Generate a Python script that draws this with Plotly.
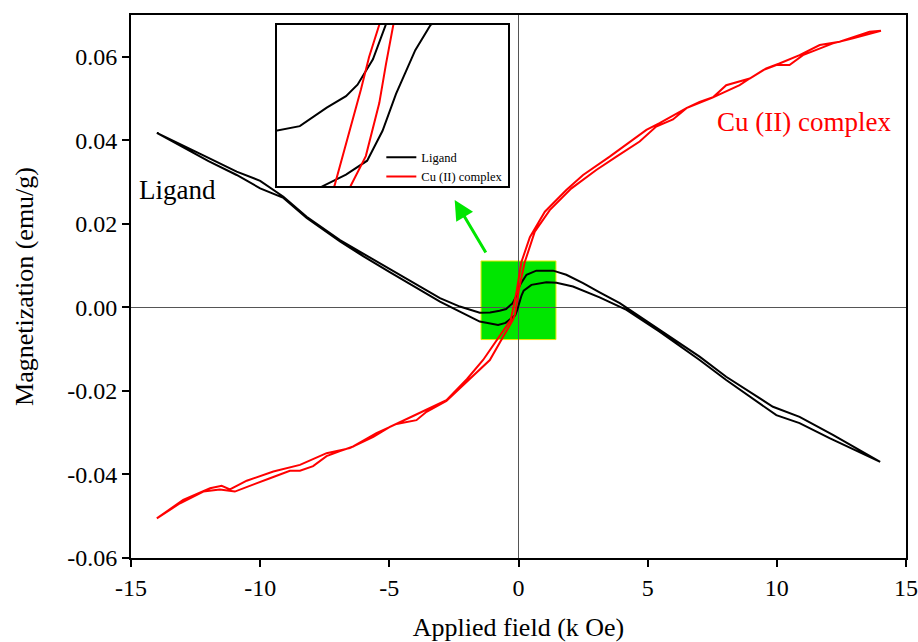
import plotly.graph_objects as go

# ---------------- data ----------------
# Ligand, branch with field decreasing (+14 -> -14)
lig_up_x = [14.0, 12.17, 10.88, 9.85, 8.04, 7.01, 5.46, 3.92, 3.14, 2.5, 1.85, 1.34, 0.69, 0.31, 0.10,
            -0.02, -0.10, -0.18, -0.24, -0.34, -0.48, -0.73, -1.1, -1.5, -2.27, -3.04, -4.0, -5.0,
            -6.0, -6.91, -8.2, -9.1, -10.0, -10.91, -12.0, -13.0, -14.0]
lig_up_y = [-0.0370, -0.0305, -0.0262, -0.0238, -0.0166, -0.0118, -0.0054, 0.0010, 0.0036, 0.0058,
            0.0078, 0.0088, 0.0088, 0.0078, 0.0058, 0.0043, 0.0025, 0.0014, 0.0009, 0.0004, -0.0004,
            -0.0008, -0.0012, -0.0013, 0.0002, 0.0022, 0.0056, 0.0092, 0.0128, 0.0161, 0.0217,
            0.0265, 0.0303, 0.0325, 0.0358, 0.0388, 0.0418]
# Ligand, branch with field increasing (-14 -> +14)
lig_dn_x = [-14.0, -13.0, -12.0, -10.91, -10.0, -9.1, -8.2, -6.91, -6.0, -5.0, -4.0, -3.04, -2.27,
            -1.5, -0.79, -0.5, -0.36, -0.24, -0.13, -0.05, 0.02, 0.12, 0.2, 0.5, 1.08, 1.47, 2.11,
            3.14, 4.18, 5.46, 7.01, 8.04, 9.98, 10.88, 12.04, 14.0]
lig_dn_y = [0.0418, 0.0384, 0.0350, 0.0317, 0.0285, 0.0262, 0.0214, 0.0158, 0.0122, 0.0085, 0.0048,
            0.0014, -0.0010, -0.0034, -0.0042, -0.0037, -0.0030, -0.0025, -0.0019, -0.0006, 0.0010,
            0.0029, 0.0040, 0.0054, 0.0060, 0.0059, 0.0050, 0.0024, -0.0006, -0.0058, -0.0126,
            -0.0174, -0.0258, -0.0277, -0.0313, -0.0370]

# Cu (II) complex, branch with field decreasing (+14 -> -14)
cu_up_x = [14.03, 13.59, 12.43, 11.66, 10.88, 10.1, 9.59, 8.95, 8.04, 7.53, 6.5, 5.46, 4.95, 3.53,
           2.5, 1.85, 1.02, 0.44, 0.11, -0.067, -0.12, -0.162, -0.24, -0.30, -0.6, -0.9, -1.37,
           -2.0, -2.79, -4.08, -4.98, -5.62, -6.53, -7.43, -8.46, -9.49, -10.52, -11.17, -11.49,
           -11.94, -12.98, -14.0]
cu_up_y = [0.0662, 0.0660, 0.0636, 0.0628, 0.0604, 0.0584, 0.0572, 0.0548, 0.0532, 0.0503, 0.0477,
           0.0441, 0.0425, 0.0361, 0.0317, 0.0281, 0.0229, 0.0168, 0.0108, 0.0040, 0.0026, 0.0012,
           -0.0012, -0.0030, -0.0057, -0.0084, -0.0126, -0.0172, -0.0222, -0.0260, -0.0286,
           -0.0310, -0.0337, -0.0349, -0.0377, -0.0393, -0.0415, -0.0436, -0.0427, -0.0433,
           -0.0461, -0.0505]
# Cu (II) complex, branch with field increasing (-14 -> +14)
cu_dn_x = [-14.0, -13.1, -12.2, -11.56, -10.98, -10.27, -9.62, -8.85, -8.46, -7.95, -7.43, -6.91,
           -6.4, -5.5, -4.72, -3.95, -3.56, -2.79, -2.0, -1.11, -0.6, -0.216, -0.137, -0.067,
           -0.032, 0.006, 0.24, 0.63, 1.21, 2.05, 3.01, 3.79, 4.69, 5.33, 5.98, 6.5, 7.01, 7.53,
           8.56, 8.95, 9.47, 9.98, 10.49, 11.01, 11.66, 12.17, 12.95, 14.03]
cu_dn_y = [-0.0505, -0.0469, -0.0441, -0.0436, -0.0441, -0.0425, -0.0409, -0.0391, -0.0391,
           -0.0380, -0.0356, -0.0344, -0.0333, -0.0301, -0.0279, -0.0270, -0.0250, -0.0224,
           -0.0178, -0.0126, -0.0071, -0.0030, -0.0017, 0.0006, 0.0023, 0.0040, 0.0108, 0.0181,
           0.0233, 0.0285, 0.0329, 0.0361, 0.0397, 0.0433, 0.0450, 0.0477, 0.0492, 0.0503,
           0.0532, 0.0548, 0.0568, 0.0580, 0.0580, 0.0604, 0.0620, 0.0632, 0.0644, 0.0662]

series_names = ["Ligand", "Cu (II) complex"]
series_colors = ["#000000", "#ff0000"]

x_ticks = [-15, -10, -5, 0, 5, 10, 15]
x_ticktext = ["-15", "-10", "-5", "0", "5", "10", "15"]
y_ticks = [-0.06, -0.04, -0.02, 0.00, 0.02, 0.04, 0.06]
y_ticktext = ["-0.06", "-0.04", "-0.02", "0.00", "0.02", "0.04", "0.06"]

# highlighted region (green box) and inset ranges
box_x = [-1.45, 1.45]
box_y = [-0.0077, 0.0111]
inset_xr = [-0.6, 0.6]
inset_yr = [-0.003, 0.004]

FONT = "Liberation Serif"

fig = go.Figure()

loops = [
    (lig_dn_x + lig_up_x, lig_dn_y + lig_up_y),
    (cu_dn_x + cu_up_x, cu_dn_y + cu_up_y),
]

# main plot traces
for (xs, ys), name, col in zip(loops, series_names, series_colors):
    fig.add_trace(go.Scatter(x=xs, y=ys, mode="lines", name=name,
                             line=dict(color=col, width=2), showlegend=False,
                             xaxis="x", yaxis="y"))
# inset traces
for (xs, ys), name, col in zip(loops, series_names, series_colors):
    fig.add_trace(go.Scatter(x=xs, y=ys, mode="lines", name=name,
                             line=dict(color=col, width=2), showlegend=True,
                             xaxis="x2", yaxis="y2"))

fig.update_layout(
    width=918, height=642,
    margin=dict(l=131, r=11.5, t=15, b=84),
    plot_bgcolor="white", paper_bgcolor="white",
    font=dict(family=FONT, color="black"),
    xaxis=dict(domain=[0, 1], range=[-15, 15], tickvals=x_ticks, ticktext=x_ticktext,
               ticks="outside", ticklen=7, tickwidth=2, tickcolor="black",
               showline=True, linewidth=2, linecolor="black", mirror=True,
               showgrid=False, zeroline=True, zerolinecolor="#555555", zerolinewidth=1,
               tickfont=dict(size=24, family=FONT), automargin=False,
               title=dict(text="Applied field (k Oe)", font=dict(size=26, family=FONT), standoff=18)),
    yaxis=dict(domain=[0, 1], range=[-0.06, 0.07], tickvals=y_ticks, ticktext=y_ticktext,
               ticks="outside", ticklen=7, tickwidth=2, tickcolor="black",
               showline=True, linewidth=2, linecolor="black", mirror=True,
               showgrid=False, zeroline=True, zerolinecolor="#555555", zerolinewidth=1,
               tickfont=dict(size=24, family=FONT), automargin=False,
               title=dict(text="Magnetization (emu/g)", font=dict(size=26, family=FONT), standoff=26)),
    xaxis2=dict(domain=[0.188, 0.486], range=inset_xr, anchor="y2", automargin=False,
                showline=True, linewidth=2, linecolor="black", mirror=True,
                showticklabels=False, ticks="", showgrid=False, zeroline=False),
    yaxis2=dict(domain=[0.685, 0.982], range=inset_yr, anchor="x2", automargin=False,
                showline=True, linewidth=2, linecolor="black", mirror=True,
                showticklabels=False, ticks="", showgrid=False, zeroline=False),
    legend=dict(x=0.323, y=0.765, xanchor="left", yanchor="top",
                bgcolor="rgba(0,0,0,0)", borderwidth=0,
                font=dict(size=12.5, family=FONT), itemwidth=30, tracegroupgap=0),
    showlegend=True,
)

fig.add_shape(type="rect", xref="x", yref="y", x0=box_x[0], x1=box_x[1], y0=box_y[0], y1=box_y[1],
              fillcolor="#00e600", line=dict(color="#e8e800", width=1), layer="below")

fig.add_annotation(x=-2.47, y=0.0257, xref="x", yref="y", ax=32, ay=54, text="",
                   showarrow=True, arrowhead=2, arrowsize=1.3, arrowwidth=3, arrowcolor="#00e600")

fig.add_annotation(x=-13.2, y=0.0281, xref="x", yref="y", text="Ligand", showarrow=False,
                   font=dict(size=27, family=FONT, color="black"))
fig.add_annotation(x=11.05, y=0.0445, xref="x", yref="y", text="Cu (II) complex", showarrow=False,
                   font=dict(size=27, family=FONT, color="#ff0000"))

fig.write_html("out.html")
